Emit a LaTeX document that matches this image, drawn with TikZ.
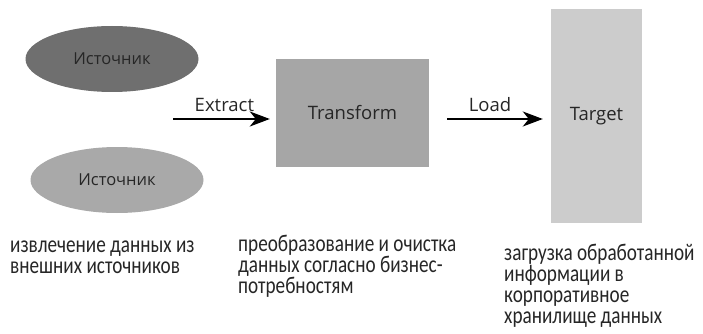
\documentclass[tikz,border=0pt]{standalone}
\usepackage{fontspec}
\setmainfont{Carlito}[FakeStretch=0.8]
\newfontfamily\lblfont{Open Sans}
\usetikzlibrary{arrows.meta,shapes.geometric}

\definecolor{srcdark}{HTML}{6F6F6F}
\definecolor{srclight}{HTML}{A9A9A9}
\definecolor{boxmid}{HTML}{A6A6A6}
\definecolor{boxlight}{HTML}{CCCCCC}
\definecolor{ink}{HTML}{262626}

\begin{document}
\begin{tikzpicture}[x=1pt,y=-1pt,
    lbl/.style={font=\lblfont\fontsize{18.5}{21}\selectfont, text=ink},
    src/.style={ellipse, minimum width=173pt, minimum height=66pt, inner sep=0pt,
      font=\lblfont\fontsize{16.5}{19}\selectfont, text=ink},
    stage/.style={rectangle, inner sep=0pt, lbl},
    flow/.style={line width=2pt, -{Stealth[length=20pt,width=15pt,inset=6pt]}},
    note/.style={anchor=base west, align=left, inner sep=0pt, text=ink,
      font=\fontsize{24}{21}\selectfont}]
  \useasboundingbox (0,0) rectangle (703,334);

  \node [src, fill=srcdark] (src1) at (112,59) { Источник };
  \node [src, fill=srclight] (src2) at (117,180) { Источник };

  \node [stage, fill=boxmid, minimum width=153pt, minimum height=108pt] (transform) at (352.5,113) { Transform };
  \node [stage, fill=boxlight, minimum width=91pt, minimum height=214pt] (target) at (596.5,116) { Target };

  \coordinate (extract) at (173,119);
  \draw [flow, shorten >=6pt] (extract) -- (transform.west |- extract) node [midway, above=3pt, lbl] (extractlbl) { Extract };
  \draw [flow, shorten <=18pt, shorten >=8pt] (transform.east |- extract) -- (target.west |- extract) node [midway, above=3pt, lbl] (loadlbl) { Load };

  \node [note] (extractnote) at (10,273) { извлечение данных из\\внешних источников };
  \node [note] (transformnote) at (238,293) { преобразование и очистка\\данных согласно бизнес-\\потребностям };
  \node [note] (loadnote) at (504,323) { загрузка обработанной\\информации в\\корпоративное\\хранилище данных };
\end{tikzpicture}
\end{document}
